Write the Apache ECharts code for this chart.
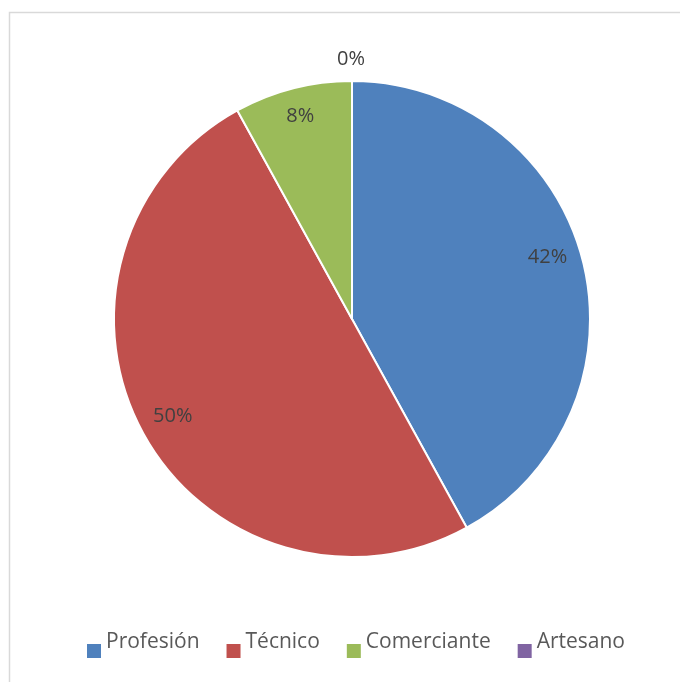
<!DOCTYPE html>
<html>
<head>
<meta charset="utf-8">
<script src="https://cdn.jsdelivr.net/npm/echarts@6/dist/echarts.min.js"></script>
<style>
  html, body { margin: 0; padding: 0; background: #ffffff; }
  #chart { width: 680px; height: 682px; }
</style>
</head>
<body>
<div id="chart"></div>
<script>
// Occupation shares (percent)
const categories = ['Profesión', 'Técnico', 'Comerciante', 'Artesano'];
const shares = [42, 50, 8, 0];
const sliceColors = ['#4F81BD', '#C0504D', '#9BBB59', '#8064A2'];

// Fine placement of the percentage labels, per slice
const labelOffsets = [[-6, -10], [3, -3], [0, -1], [-1, -52]];

const FONT = '"Open Sans", "Liberation Sans", sans-serif';
const CENTER = [352, 319];

const chart = echarts.init(document.getElementById('chart'), null, { renderer: 'canvas' });

const sliceData = categories.map((name, i) => ({
  name,
  value: shares[i],
  itemStyle: { color: sliceColors[i] }
}));

const labelData = categories.map((name, i) => ({
  name,
  value: shares[i],
  label: { offset: labelOffsets[i] }
}));

chart.setOption({
  backgroundColor: '#ffffff',
  animation: false,
  graphic: [{
    type: 'rect',
    shape: { x: 9.5, y: 12.5, width: 700, height: 700 },
    style: { fill: 'none', stroke: '#d9d9d9', lineWidth: 1.5 },
    silent: true
  }],
  legend: {
    data: categories,
    left: 82,
    top: 627,
    icon: 'rect',
    itemWidth: 14,
    itemHeight: 14,
    itemGap: 27,
    selectedMode: false,
    itemStyle: { borderWidth: 0 },
    // legend text sits a little above the square marker
    formatter: name => '{t|' + name + '}',
    textStyle: {
      fontFamily: FONT,
      fontSize: 21,
      color: '#595959',
      rich: {
        t: {
          fontFamily: FONT,
          fontSize: 21,
          color: '#595959',
          padding: [0, 0, 17, 0]
        }
      }
    }
  },
  series: [
    {
      type: 'pie',
      center: CENTER,
      radius: 238,
      startAngle: 90,
      clockwise: true,
      silent: true,
      label: { show: false },
      labelLine: { show: false },
      itemStyle: { borderColor: '#ffffff', borderWidth: 2 },
      data: sliceData
    },
    {
      // transparent ring that only carries the percentage labels
      type: 'pie',
      center: CENTER,
      radius: [170, 240],
      startAngle: 90,
      clockwise: true,
      silent: true,
      legendHoverLink: false,
      itemStyle: { color: 'rgba(0,0,0,0)', borderWidth: 0 },
      label: {
        show: true,
        position: 'inside',
        formatter: p => p.value + '%',
        fontFamily: FONT,
        fontSize: 20,
        color: '#404040'
      },
      labelLine: { show: false },
      data: labelData
    }
  ]
});
</script>
</body>
</html>
